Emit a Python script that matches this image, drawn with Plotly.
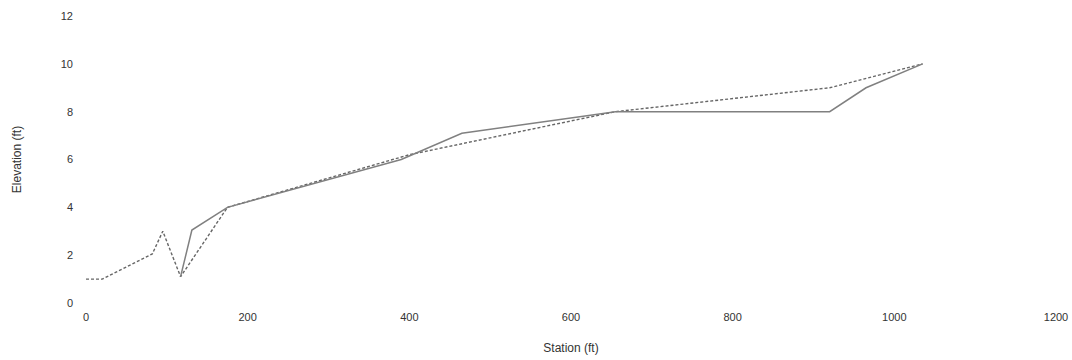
import plotly.graph_objects as go

# Dashed profile
dashed_station = [0, 20, 82, 95, 117, 175, 400, 655, 920, 1035]
dashed_elev = [1.0, 1.0, 2.05, 3.0, 1.1, 4.0, 6.2, 8.0, 9.0, 10.0]

# Solid profile
solid_station = [117, 131, 175, 390, 465, 655, 920, 965, 1035]
solid_elev = [1.1, 3.05, 4.0, 6.0, 7.1, 8.0, 8.0, 9.0, 10.0]

x_ticks = [0, 200, 400, 600, 800, 1000, 1200]
y_ticks = [0, 2, 4, 6, 8, 10, 12]

fig = go.Figure()
fig.add_trace(go.Scatter(x=dashed_station, y=dashed_elev, mode="lines",
                         line=dict(color="#666666", width=1.4, dash="3px,2px"),
                         showlegend=False))
fig.add_trace(go.Scatter(x=solid_station, y=solid_elev, mode="lines",
                         line=dict(color="#808080", width=1.5),
                         showlegend=False))

tick_font = dict(family="Liberation Sans, Arial, sans-serif", size=11, color="#333333")
fig.update_layout(
    width=1072, height=360,
    margin=dict(l=86, r=16, t=16, b=57),
    paper_bgcolor="white", plot_bgcolor="white",
    font=dict(family="Liberation Sans, Arial, sans-serif", size=11, color="#333333"),
    xaxis=dict(range=[0, 1200], tickvals=x_ticks, showgrid=False, zeroline=False,
               showline=False, ticks="", ticklabelstandoff=6, automargin=False,
               tickfont=tick_font, ticklabeloverflow="allow",
               title=dict(text="Station (ft)", font=dict(size=12, color="#333333"), standoff=21)),
    yaxis=dict(range=[0, 12], tickvals=y_ticks, showgrid=False, zeroline=False,
               showline=False, ticks="", ticklabelstandoff=12, automargin=False,
               tickfont=tick_font,
               title=dict(text="Elevation (ft)", font=dict(size=12, color="#333333"), standoff=36)),
)

fig.write_html(
    "out.html",
    config={"displayModeBar": False},
    post_script="document.body.style.margin='0';document.body.style.overflow='hidden';",
)
